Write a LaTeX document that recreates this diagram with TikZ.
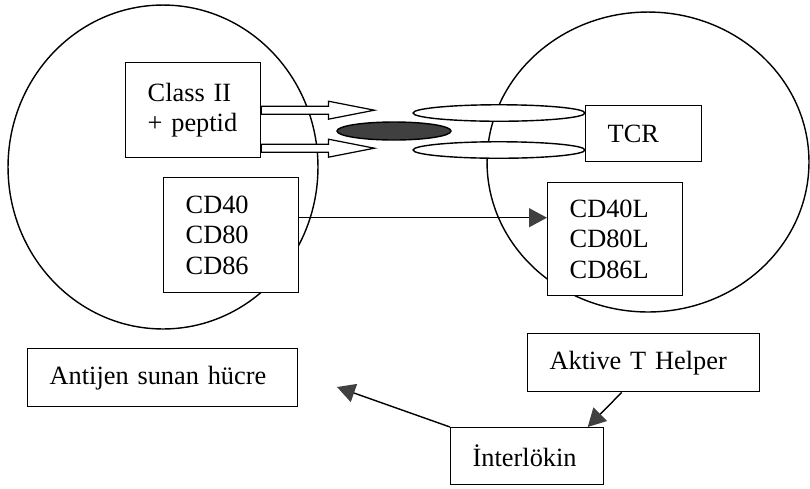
\documentclass[tikz,border=0pt]{standalone}
\usepackage{fontspec}
\setmainfont{Liberation Serif}
\usetikzlibrary{arrows.meta,shapes.geometric}

\newcommand{\hollowarrow}[1]{%
  \draw[hollow] (#1) ++(0,-4) -- ++(67,0) -- ++(0,-5) -- ++(46,9)
    -- ++(-46,9) -- ++(0,-5) -- ++(-67,0) -- cycle;}

\begin{document}
\begin{tikzpicture}[x=0.02cm,y=-0.02cm,line width=0.8pt,
    font=\fontsize{15}{17.3}\selectfont,
    cell/.style={ellipse,draw,inner sep=0pt},
    box/.style={draw,fill=white,align=left,anchor=north west,inner xsep=0.44cm,inner ysep=0pt},
    disc/.style={ellipse,draw,fill=white,inner sep=0pt,minimum width=3.44cm,minimum height=0.33cm},
    hollow/.style={draw,fill=white,line width=0.7pt},
    tip/.style={-{Triangle[length=0.36cm,width=0.38cm,color=black!75]}}]
  \useasboundingbox (0,0) rectangle (810,488);
  % the two cells
  \node[cell,minimum width=6.2cm,minimum height=6.48cm] (apc) at (163,167) {};
  \node[cell,minimum width=6.44cm,minimum height=6cm] (thc) at (648,162) {};
  % boxes
  \node[box,text width=1.82cm,minimum height=1.9cm] (cls) at (125,62) {Class II\\+ peptid};
  \node[box,text width=1.82cm,minimum height=2.3cm] (cd) at (163,177) {CD40\\CD80\\CD86};
  \node[box,text width=1.44cm,minimum height=1.12cm] (tcr) at (585,105) {TCR};
  \node[box,text width=1.82cm,minimum height=2.26cm] (cdl) at (547,182) {CD40L\\CD80L\\CD86L};
  \node[box,text width=4.52cm,minimum height=1.16cm] (apcl) at (27,348) {Antijen sunan hücre};
  \node[box,text width=3.76cm,minimum height=1.16cm] (ak) at (527,333) {Aktive T Helper};
  \node[box,text width=2.18cm,minimum height=1.14cm] (il) at (450,427) {İnterlökin};
  % receptor and peptid
  \hollowarrow{cls.east}
  \hollowarrow{[yshift=-0.76cm]cls.east}
  \node[disc] (r1) at (499,113) {};
  \node[disc] (r2) at (499,150) {};
  \node[ellipse,draw,fill=black!75,inner sep=0pt,minimum width=2.28cm,minimum height=0.36cm] (pep) at (394,131) {};
  % connectors
  \path ([yshift=0.35cm]cd.east) coordinate (c1);
  \draw[tip] (c1) -- (c1 -| cdl.west);
  \coordinate (aim) at (337,387);
  \draw[tip] (il.north west) -- (aim);
  \draw[tip] ([xshift=-0.44cm]ak.south) -- ([xshift=1.21cm]il.north);
\end{tikzpicture}
\end{document}
